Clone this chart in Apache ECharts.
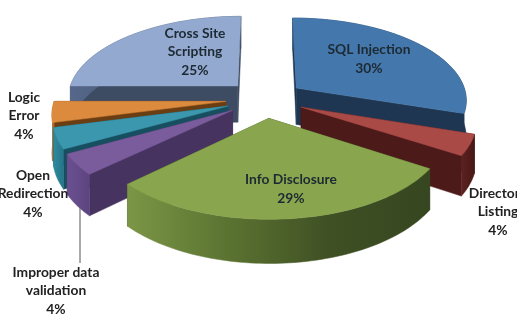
<!DOCTYPE html>
<html>
<head>
<meta charset="utf-8">
<style>html,body{margin:0;padding:0;background:#fff}#c{width:517px;height:326px}</style>
<script src="https://cdn.jsdelivr.net/npm/echarts@6/dist/echarts.min.js"></script>
</head>
<body>
<div id="c"></div>
<script>
// Vulnerability classes, clockwise from twelve o'clock
const categories = ['SQL Injection', 'Directory\nListing', 'Info Disclosure', 'Improper data\nvalidation', 'Open\nRedirection', 'Logic\nError', 'Cross Site\nScripting'];
const shares = [30, 4, 29, 4, 4, 4, 25];

// Back-to-front paint rank of each slice
const paintRank = [1, 5, 6, 4, 3, 2, 0];
const topColors = ['#4477ab', '#a94a47', '#89a64e', '#7a5c9c', '#3b97ad', '#dc8a3e', '#93a9cf'];
const sideColors = ['#1e3652', '#4c1a18', '#3c4c22', '#46335f', '#174f60', '#6b3d12', '#3e4c63'];
const rimStops = [
  ['#2b4a70', '#1e3652'],
  ['#5c2220', '#471816'],
  ['#7b9646', '#5b7331', '#3f5024', '#364620'],
  ['#6b5090', '#5c4480'],
  ['#2f8ba0', '#257487'],
  ['#c47a32', '#a86520'],
  ['#55678a', '#3e4c63']
];
// Label anchors (centre of the text block) on the 517x326 page
const labelAnchors = [[369, 59], [498, 212], [291, 189], [56, 291], [33, 194], [24, 116], [195, 52]];

// Pie geometry: centre, radii, wall height, explosion and perspective strength
const CX = 265, CY = 99, RX = 171, RY = 82, WALL = 37, EXPLODE = 0.23, PERSP = 0.132;

const total = shares.reduce((a, b) => a + b, 0);
const starts = [];
shares.reduce((acc, v, i) => { starts[i] = acc; return acc + v; }, 0);

function project(u, v, down) {
  const s = 1 / (1 - PERSP * v);
  return [CX + RX * u * s, CY + RY * v * s + (down ? WALL * s : 0)];
}

function renderSlice(params) {
  const i = params.dataIndex;
  const a0 = starts[i] / total * Math.PI * 2;
  const a1 = (starts[i] + shares[i]) / total * Math.PI * 2;
  const mid = (a0 + a1) / 2;
  const ou = Math.sin(mid) * EXPLODE, ov = -Math.cos(mid) * EXPLODE;
  const rimTop = [], rimBottom = [];
  const steps = Math.max(4, Math.ceil((a1 - a0) / 0.025));
  for (let k = 0; k <= steps; k++) {
    const a = a0 + (a1 - a0) * k / steps;
    const u = ou + Math.sin(a), v = ov - Math.cos(a);
    rimTop.push(project(u, v, false));
    rimBottom.push(project(u, v, true));
  }
  const apexTop = project(ou, ov, false);
  const apexBottom = project(ou, ov, true);
  const last = steps;
  const z = paintRank[i];
  const side = sideColors[i];
  const poly = (points, fill, order) => ({
    type: 'polygon',
    z2: z * 10 + order,
    shape: { points },
    style: { fill, stroke: fill, lineWidth: 0.5 }
  });
  const stops = rimStops[i].map((color, n, all) => ({ offset: n / (all.length - 1), color }));
  const children = [
    poly([apexTop, rimTop[0], rimBottom[0], apexBottom], side, 0),
    poly([apexTop, rimTop[last], rimBottom[last], apexBottom], side, 1),
    poly(rimTop.concat(rimBottom.slice().reverse()), new echarts.graphic.LinearGradient(0, 0, 1, 0, stops), 2),
    poly([apexTop].concat(rimTop), topColors[i], 3),
    {
      type: 'text',
      z2: 200,
      x: labelAnchors[i][0],
      y: labelAnchors[i][1],
      style: {
        text: categories[i] + '\n' + shares[i] + '%',
        fill: i === 0 || i === 2 || i === 6 ? '#1d2a33' : '#222',
        font: 'bold 13.8px Lato, sans-serif',
        align: 'center',
        verticalAlign: 'middle',
        lineHeight: 18.7
      }
    }
  ];
  // Leader line from the Improper data validation slice to its label
  if (i === 3) {
    children.push({
      type: 'line',
      z2: 190,
      shape: { x1: 80, y1: 207, x2: 80, y2: 263 },
      style: { stroke: '#555', lineWidth: 1 }
    });
  }
  return { type: 'group', children };
}

const chart = echarts.init(document.getElementById('c'), null, { renderer: 'canvas' });
chart.setOption({
  animation: false,
  backgroundColor: '#fff',
  series: [{
    type: 'custom',
    coordinateSystem: 'none',
    silent: true,
    renderItem: renderSlice,
    data: categories.map((name, i) => ({ name, value: shares[i] }))
  }]
});
</script>
</body>
</html>
